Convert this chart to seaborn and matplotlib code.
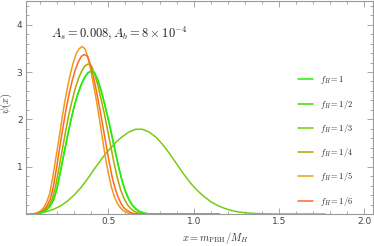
import matplotlib
matplotlib.use("Agg")
import matplotlib.pyplot as plt
import matplotlib.ticker as ticker
import seaborn as sns

# curves (x = m_PBH/M_H, psi(x))
x_f1 = [0.06, 0.08, 0.10, 0.12, 0.14, 0.16, 0.18, 0.20, 0.22, 0.24, 0.26, 0.28,
        0.30, 0.32, 0.34, 0.36, 0.38, 0.40, 0.42, 0.44, 0.46, 0.48, 0.50, 0.52,
        0.54, 0.56, 0.58, 0.60, 0.62, 0.64, 0.66, 0.68, 0.70, 0.72, 0.75, 1.15]
y_f1 = [0.00, 0.005, 0.02, 0.045, 0.09, 0.17, 0.30, 0.55, 0.90, 1.27, 1.63, 1.97,
        2.27, 2.52, 2.72, 2.88, 2.98, 3.02, 2.98, 2.82, 2.58, 2.30, 2.00, 1.67,
        1.33, 1.00, 0.71, 0.48, 0.31, 0.19, 0.11, 0.06, 0.03, 0.01, 0.00, 0.00]

x_f2 = x_f1
y_f2 = y_f1

x_f3 = [0.02, 0.06, 0.10, 0.14, 0.18, 0.22, 0.26, 0.30, 0.34, 0.38, 0.42, 0.46,
        0.50, 0.54, 0.58, 0.62, 0.66, 0.70, 0.74, 0.78, 0.82, 0.86, 0.90, 0.94,
        0.98, 1.02, 1.06, 1.10, 1.14, 1.18, 1.22, 1.26, 1.30, 1.35, 1.40, 1.48, 1.77]
y_f3 = [0.00, 0.005, 0.025, 0.052, 0.10, 0.17, 0.27, 0.40, 0.56, 0.75, 0.96, 1.16,
        1.34, 1.50, 1.63, 1.73, 1.79, 1.79, 1.73, 1.62, 1.46, 1.27, 1.06, 0.85,
        0.66, 0.50, 0.37, 0.26, 0.18, 0.12, 0.075, 0.045, 0.026, 0.012, 0.005, 0.00, 0.00]

x_f4 = [0.057, 0.076, 0.096, 0.115, 0.134, 0.153, 0.172, 0.191, 0.210, 0.229, 0.248, 0.267,
        0.287, 0.306, 0.325, 0.344, 0.363, 0.382, 0.401, 0.420, 0.439, 0.458, 0.478, 0.497,
        0.516, 0.535, 0.554, 0.573, 0.592, 0.611, 0.630, 0.649, 0.669, 0.688, 0.716, 1.10]
y_f4 = [0.00, 0.005, 0.021, 0.047, 0.095, 0.18, 0.32, 0.58, 0.95, 1.33, 1.71, 2.07,
        2.38, 2.65, 2.86, 3.02, 3.13, 3.17, 3.13, 2.96, 2.71, 2.42, 2.10, 1.75,
        1.40, 1.05, 0.75, 0.50, 0.33, 0.20, 0.12, 0.063, 0.032, 0.011, 0.00, 0.00]

x_f5 = [0.045, 0.069, 0.087, 0.104, 0.121, 0.138, 0.156, 0.173, 0.190, 0.208, 0.225, 0.242,
        0.260, 0.277, 0.294, 0.311, 0.329, 0.346, 0.363, 0.381, 0.398, 0.415, 0.433, 0.450,
        0.467, 0.484, 0.502, 0.519, 0.536, 0.554, 0.571, 0.588, 0.606, 0.623, 0.649, 1.10]
y_f5 = [0.00, 0.008, 0.03, 0.07, 0.13, 0.24, 0.42, 0.74, 1.12, 1.52, 1.92, 2.31,
        2.66, 2.95, 3.19, 3.38, 3.49, 3.54, 3.49, 3.31, 3.02, 2.70, 2.34, 1.96,
        1.56, 1.17, 0.83, 0.56, 0.36, 0.22, 0.13, 0.07, 0.035, 0.012, 0.00, 0.00]

x_f6 = [0.054, 0.072, 0.090, 0.108, 0.126, 0.144, 0.162, 0.180, 0.198, 0.216, 0.234, 0.252,
        0.270, 0.288, 0.306, 0.324, 0.342, 0.360, 0.378, 0.396, 0.414, 0.432, 0.450, 0.468,
        0.486, 0.504, 0.522, 0.540, 0.558, 0.576, 0.594, 0.612, 0.630, 0.648, 0.675, 1.10]
y_f6 = [0.00, 0.006, 0.022, 0.05, 0.10, 0.19, 0.33, 0.61, 1.00, 1.42, 1.82, 2.20,
        2.53, 2.81, 3.04, 3.21, 3.33, 3.37, 3.33, 3.15, 2.88, 2.57, 2.23, 1.86,
        1.48, 1.12, 0.79, 0.54, 0.35, 0.21, 0.12, 0.07, 0.033, 0.011, 0.00, 0.00]

labels = [r"$f_H=1$", r"$f_H=1/2$", r"$f_H=1/3$", r"$f_H=1/4$", r"$f_H=1/5$", r"$f_H=1/6$"]
colors = ["#22f010", "#33dd00", "#77cc11", "#aaaa00", "#ee9a22", "#ff6a1a"]
order = [6, 1, 2, 3, 4, 5]
xs = [x_f1, x_f2, x_f3, x_f4, x_f5, x_f6]
ys = [y_f1, y_f2, y_f3, y_f4, y_f5, y_f6]

sns.set_theme(style="ticks")
plt.rcParams["font.family"] = ["DejaVu Sans"]
plt.rcParams["mathtext.fontset"] = "cm"

fig = plt.figure(figsize=(3.74, 2.46), dpi=100)
ax = fig.add_axes([26 / 374, 32 / 246, 347 / 374, 213 / 246])

for xv, yv, c, lab, z in zip(xs, ys, colors, labels, order):
    sns.lineplot(x=xv, y=yv, color=c, lw=1.1, label=lab, ax=ax, sort=False, zorder=z)

ax.set_xlim(0.018, 2.05)
ax.set_ylim(0, 4.5)
ax.set_xticks([0.5, 1.0, 1.5, 2.0])
ax.set_yticks([1, 2, 3, 4])
ax.xaxis.set_minor_locator(ticker.MultipleLocator(0.1))
ax.yaxis.set_minor_locator(ticker.MultipleLocator(0.2))
ax.xaxis.set_major_formatter(ticker.FormatStrFormatter("%.1f"))
ax.tick_params(which="both", direction="in", top=True, right=True, color="#999999",
               labelsize=6.5, labelcolor="#444444", width=0.6, pad=2.5)
ax.tick_params(which="major", length=4)
ax.tick_params(which="minor", length=2)
for s in ax.spines.values():
    s.set_color("#999999")
    s.set_linewidth(0.8)

ax.text(0.567, 3.82, r"$A_s=0.008, A_b=8\times10^{-4}$", ha="center", va="center",
        fontsize=9, color="#222222")
ax.set_xlabel(r"$x=m_{\rm PBH}/M_H$", fontsize=7.5, color="#333333")
ax.xaxis.set_label_coords(0.547, -0.075)
ax.set_ylabel(r"$\psi(x)$", fontsize=7.5, color="#333333")
ax.yaxis.set_label_coords(-0.035, 0.52)

ax.legend(loc="upper left", bbox_to_anchor=(0.772, 0.675), frameon=False, fontsize=6,
          handlelength=1.8, handletextpad=0.8, labelspacing=1.35, borderpad=0)

fig.savefig("out.png", dpi=100)
